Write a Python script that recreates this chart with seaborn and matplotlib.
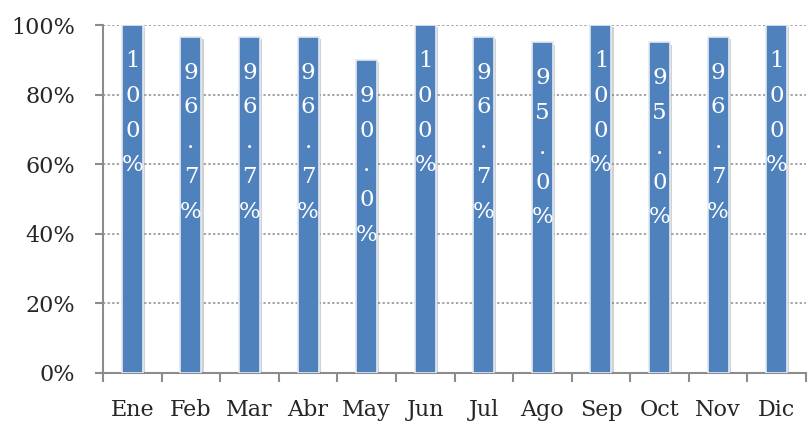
import matplotlib
matplotlib.use("Agg")
import matplotlib.pyplot as plt
import matplotlib.patheffects as pe
import numpy as np
import pandas as pd
import seaborn as sns

months = ["Ene", "Feb", "Mar", "Abr", "May", "Jun", "Jul", "Ago", "Sep", "Oct", "Nov", "Dic"]
values = [100, 96.7, 96.7, 96.7, 90.0, 100, 96.7, 95.0, 100, 95.0, 96.7, 100]
labels = ["100%", "96.7%", "96.7%", "96.7%", "90.0%", "100%", "96.7%", "95.0%", "100%", "95.0%", "96.7%", "100%"]

df = pd.DataFrame({"mes": months, "valor": values})

sns.set_style("white")
plt.rcParams["font.family"] = ["DejaVu Serif"]

fig = plt.figure(figsize=(8.08, 4.25), dpi=100)
ax = fig.add_axes([0.1275, 0.1224, 0.87, 0.8186])

sns.barplot(data=df, x="mes", y="valor", color="#4F81BD", saturation=1,
            width=0.36, edgecolor="#e4eaf2", linewidth=1.2, ax=ax, zorder=3)
for p in ax.patches:
    p.set_path_effects([pe.SimplePatchShadow(offset=(1.5, -1.5), shadow_rgbFace="#808080", alpha=0.35),
                        pe.Normal()])

# etiquetas verticales, un caracter por linea
for i, (v, lab) in enumerate(zip(values, labels)):
    ax.annotate("\n".join(lab), xy=(i, v), xytext=(0, -18), textcoords="offset points",
                ha="center", va="top", color="white", fontsize=16.5, linespacing=1.75,
                zorder=4)

ax.set_ylim(0, 100)
ax.set_xlim(-0.5, 11.5)
ax.set_yticks(np.arange(0, 101, 20))
ax.set_yticklabels([f"{t}%" for t in range(0, 101, 20)])
ax.yaxis.grid(True, linestyle=(0, (1.5, 1.5)), color="#8c8c8c", linewidth=1.1, zorder=0)
ax.set_axisbelow(True)

ax.set_xticks(np.arange(-0.5, 12, 1), minor=True)
ax.tick_params(axis="x", which="minor", bottom=True, length=6.5, width=1.5, color="#8c8c8c")
ax.tick_params(axis="x", which="major", bottom=True, length=0, pad=19, labelsize=16)
ax.tick_params(axis="y", left=True, length=6, width=1.5, color="#8c8c8c", pad=14, labelsize=16)
ax.set_xlabel("")
ax.set_ylabel("")

for s in ["top", "right"]:
    ax.spines[s].set_visible(False)
for s in ["left", "bottom"]:
    ax.spines[s].set_color("#8c8c8c")
    ax.spines[s].set_linewidth(1.5)

fig.savefig("out.png", dpi=100)
